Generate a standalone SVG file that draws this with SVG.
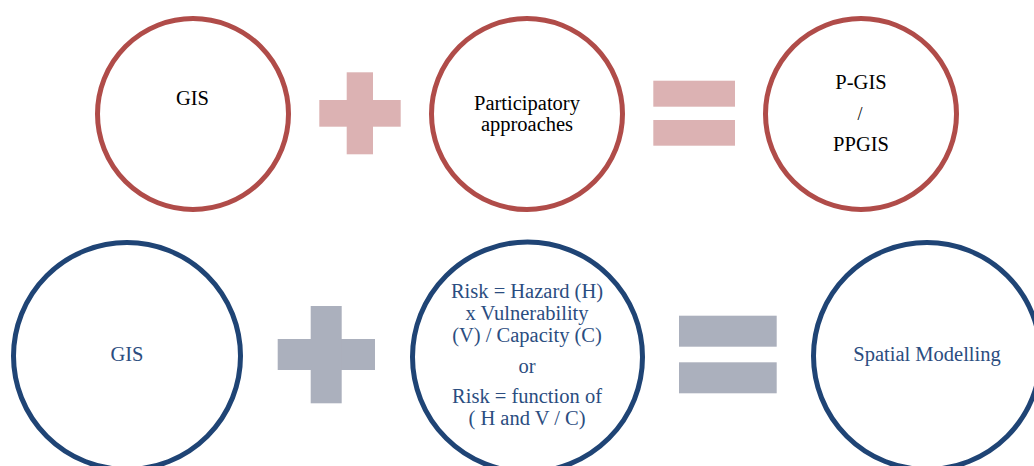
<svg xmlns="http://www.w3.org/2000/svg" width="1034" height="466" viewBox="0 0 1034 466">
<style>
.rc{fill:#ffffff;stroke:#b04c49;stroke-width:5}
.bc{fill:#ffffff;stroke:#1f4475;stroke-width:5}
.rs{fill:#dcb2b3}
.gs{fill:#abb0bd}
.tk{font-family:"Liberation Serif","Times New Roman",serif;font-size:20.5px;fill:#000000;text-anchor:middle}
.tb{font-family:"Liberation Serif","Times New Roman",serif;font-size:20.5px;fill:#2b4d80;text-anchor:middle}
</style>
<rect width="1034" height="466" fill="#ffffff"/>
<g id="node-gis-top">
<circle class="rc" cx="193" cy="114" r="95.5"/>
<text class="tk" x="192.5" y="105">GIS</text>
</g>
<g id="node-plus-top">
<rect class="rs" x="319.3" y="100" width="81.4" height="26.7"/>
<rect class="rs" x="346.7" y="72.3" width="26.3" height="82"/>
</g>
<g id="node-participatory">
<circle class="rc" cx="527" cy="114" r="95.5"/>
<text class="tk" x="527" y="110">Participatory</text>
<text class="tk" x="527" y="131">approaches</text>
</g>
<g id="node-equals-top">
<rect class="rs" x="653.3" y="80.7" width="81.7" height="26"/>
<rect class="rs" x="653.3" y="120" width="81.7" height="25.7"/>
</g>
<g id="node-pgis">
<circle class="rc" cx="861" cy="114" r="95.5"/>
<text class="tk" x="861" y="88.5">P-GIS</text>
<text class="tk" x="860" y="120" style="font-size:18px">/</text>
<text class="tk" x="861" y="150.7">PPGIS</text>
</g>
<g id="node-gis-bottom">
<circle class="bc" cx="127" cy="356" r="113.5"/>
<text class="tb" x="127" y="361">GIS</text>
</g>
<g id="node-plus-bottom">
<rect class="gs" x="277.7" y="339" width="97.3" height="31"/>
<rect class="gs" x="310.7" y="306" width="31" height="97.3"/>
</g>
<g id="node-risk">
<circle class="bc" cx="527.5" cy="357" r="115"/>
<text class="tb" x="527" y="298.3">Risk = Hazard (H)</text>
<text class="tb" x="527" y="320">x Vulnerability</text>
<text class="tb" x="527" y="341.7">(V) / Capacity (C)</text>
<text class="tb" x="527" y="372.7">or</text>
<text class="tb" x="527" y="403.3">Risk = function of</text>
<text class="tb" x="527" y="425">( H and V / C)</text>
</g>
<g id="node-equals-bottom">
<rect class="gs" x="679" y="315.7" width="97.7" height="31"/>
<rect class="gs" x="679" y="362.3" width="97.7" height="31"/>
</g>
<g id="node-spatial">
<circle class="bc" cx="927" cy="356" r="113.5"/>
<text class="tb" x="927" y="361">Spatial Modelling</text>
</g>
<g id="connectors"></g>
</svg>
